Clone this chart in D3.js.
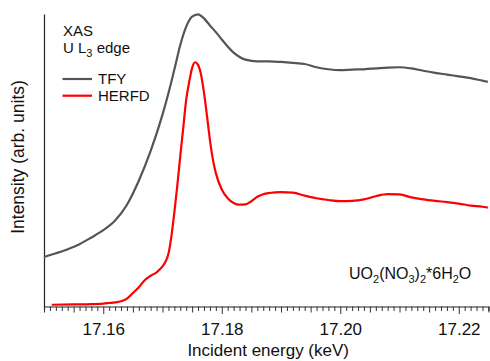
<!DOCTYPE html>
<html>
<head>
<meta charset="utf-8">
<script src="https://cdn.jsdelivr.net/npm/d3@7"></script>
<style>
  html, body { margin: 0; padding: 0; background: #fff; }
  svg { display: block; font-family: "Liberation Sans", Arial, sans-serif; }
</style>
</head>
<body>
<svg id="chart" width="490" height="361"></svg>
<script>
// ---- Data (energy in keV, intensity in arbitrary units) ----
const tfyEnergy = [17.150, 17.152, 17.154, 17.156, 17.158, 17.160, 17.162, 17.164, 17.166, 17.168,
  17.170, 17.171, 17.172, 17.173, 17.174, 17.175, 17.176, 17.177, 17.178, 17.179, 17.180, 17.182,
  17.184, 17.186, 17.188, 17.190, 17.192, 17.194, 17.196, 17.198, 17.200, 17.202, 17.204, 17.206,
  17.208, 17.210, 17.212, 17.214, 17.216, 17.218, 17.220, 17.222, 17.224, 17.2249];
const tfyIntensity = [0.169, 0.182, 0.196, 0.213, 0.236, 0.261, 0.294, 0.348, 0.430, 0.532,
  0.656, 0.729, 0.810, 0.894, 0.957, 0.991, 0.999, 0.985, 0.961, 0.938, 0.913, 0.868,
  0.844, 0.838, 0.838, 0.836, 0.833, 0.829, 0.818, 0.811, 0.808, 0.810, 0.811, 0.814,
  0.817, 0.818, 0.814, 0.806, 0.799, 0.793, 0.787, 0.781, 0.772, 0.768];

const herfdEnergy = [17.1513, 17.155, 17.158, 17.160, 17.161, 17.162, 17.163, 17.164, 17.165, 17.166,
  17.167, 17.168, 17.169, 17.170, 17.1705, 17.171, 17.1715, 17.172, 17.1725, 17.173, 17.1735,
  17.174, 17.1745, 17.175, 17.1755, 17.176, 17.1765, 17.177, 17.1775, 17.178, 17.1785, 17.179,
  17.180, 17.181, 17.182, 17.183, 17.184, 17.185, 17.186, 17.187, 17.188, 17.190, 17.192, 17.194,
  17.196, 17.198, 17.200, 17.202, 17.204, 17.206, 17.208, 17.210, 17.212, 17.214, 17.216, 17.218,
  17.220, 17.222, 17.224, 17.2249];
const herfdIntensity = [0.006, 0.007, 0.008, 0.010, 0.012, 0.014, 0.018, 0.027, 0.046, 0.066,
  0.090, 0.105, 0.117, 0.137, 0.153, 0.180, 0.240, 0.322, 0.414, 0.515, 0.611,
  0.707, 0.767, 0.816, 0.835, 0.826, 0.793, 0.731, 0.653, 0.570, 0.503, 0.456,
  0.400, 0.370, 0.354, 0.348, 0.349, 0.360, 0.375, 0.384, 0.388, 0.391, 0.389, 0.379,
  0.370, 0.364, 0.360, 0.361, 0.366, 0.377, 0.384, 0.383, 0.373, 0.366, 0.361, 0.357,
  0.352, 0.345, 0.341, 0.338];

const xTickLabels = [17.16, 17.18, 17.20, 17.22];
const xDomain = [17.15, 17.225];
const yDomain = [0, 1];

const seriesNames = ["TFY", "HERFD"];
const seriesColors = ["#555555", "#ff0000"];

// ---- Layout ----
const svg = d3.select("#chart");
const mLeft = 44, mRight = 488.4, mTop = 14, mBottom = 306.5;

const x = d3.scaleLinear().domain(xDomain).range([mLeft, mRight]);
const y = d3.scaleLinear().domain(yDomain).range([mBottom, mTop]);

const font = "'Liberation Sans', Arial, sans-serif";

// X axis: minor ticks every 0.001, medium every 0.005, labeled every 0.02
const minorVals = d3.range(0, 76).map(i => +(17.15 + i * 0.001).toFixed(3));
const xAxis = d3.axisBottom(x)
  .tickValues(minorVals)
  .tickSizeOuter(0)
  .tickSize(4.5)
  .tickFormat(d => {
    const hit = xTickLabels.find(v => Math.abs(v - d) < 1e-6);
    return hit !== undefined ? d3.format(".2f")(hit) : "";
  });

const gx = svg.append("g")
  .attr("transform", `translate(0,${mBottom})`)
  .call(xAxis);
gx.select(".domain").attr("stroke", "#222").attr("stroke-width", 1.2);
gx.selectAll(".tick line")
  .attr("stroke", "#333")
  .attr("stroke-width", 1)
  .attr("y2", d => {
    const isMajor = xTickLabels.some(v => Math.abs(v - d) < 1e-6);
    const idx = Math.round((d - 17.15) * 1000);
    if (isMajor) return 7.5;
    if (idx % 5 === 0) return 6;
    return 4.5;
  });
gx.selectAll(".tick text")
  .attr("font-family", font)
  .attr("font-size", 17)
  .attr("fill", "#111")
  .attr("y", 16.5)
  .attr("dy", "0.71em");

// Y axis: a plain line, no ticks
const yAxis = d3.axisLeft(y).tickValues([]).tickSizeOuter(0);
const gy = svg.append("g")
  .attr("transform", `translate(${mLeft},0)`)
  .call(yAxis);
gy.select(".domain").attr("stroke", "#222").attr("stroke-width", 1.2);

// Axis titles
svg.append("text")
  .attr("x", (mLeft + mRight) / 2 + 2)
  .attr("y", 356)
  .attr("text-anchor", "middle")
  .attr("font-family", font)
  .attr("font-size", 17)
  .attr("fill", "#111")
  .text("Incident energy (keV)");

svg.append("text")
  .attr("transform", "translate(24,157) rotate(-90)")
  .attr("text-anchor", "middle")
  .attr("font-family", font)
  .attr("font-size", 17.5)
  .attr("fill", "#111")
  .text("Intensity (arb. units)");

// Lines
const line = d3.line()
  .x(d => x(d[0]))
  .y(d => y(d[1]))
  .curve(d3.curveMonotoneX);

const tfyData = tfyEnergy.map((e, i) => [e, tfyIntensity[i]]);
const herfdData = herfdEnergy.map((e, i) => [e, herfdIntensity[i]]);

svg.append("path")
  .datum(tfyData)
  .attr("fill", "none")
  .attr("stroke", seriesColors[0])
  .attr("stroke-width", 2.2)
  .attr("stroke-linejoin", "round")
  .attr("d", line);

svg.append("path")
  .datum(herfdData)
  .attr("fill", "none")
  .attr("stroke", seriesColors[1])
  .attr("stroke-width", 2.2)
  .attr("stroke-linejoin", "round")
  .attr("d", line);

// Title text
svg.append("text")
  .attr("x", 63).attr("y", 36)
  .attr("font-family", font).attr("font-size", 15).attr("fill", "#111")
  .text("XAS");

const t2 = svg.append("text")
  .attr("x", 63).attr("y", 53)
  .attr("font-family", font).attr("font-size", 15).attr("fill", "#111");
t2.append("tspan").text("U L");
t2.append("tspan").attr("font-size", 11).attr("dy", 4).text("3");
t2.append("tspan").attr("dy", -4).text(" edge");

// Legend
seriesNames.forEach((name, i) => {
  const ly = 79 + i * 16.7;
  svg.append("line")
    .attr("x1", 62.5).attr("x2", 92)
    .attr("y1", ly).attr("y2", ly)
    .attr("stroke", seriesColors[i]).attr("stroke-width", 2.2);
  svg.append("text")
    .attr("x", 98).attr("y", ly + 5.3)
    .attr("font-family", font).attr("font-size", 15).attr("fill", "#111")
    .text(name);
});

// Compound label
const comp = svg.append("text")
  .attr("x", 349).attr("y", 279)
  .attr("font-family", font).attr("font-size", 16).attr("fill", "#111");
const parts = [["UO", 0], ["2", 1], ["(NO", 0], ["3", 1], [")", 0], ["2", 1], ["*6H", 0], ["2", 1], ["O", 0]];
let prevSub = 0;
parts.forEach(([txt, sub]) => {
  const ts = comp.append("tspan").text(txt);
  const dy = (sub - prevSub) * 4;
  if (dy !== 0) ts.attr("dy", dy);
  if (sub) ts.attr("font-size", 11);
  prevSub = sub;
});
</script>
</body>
</html>
